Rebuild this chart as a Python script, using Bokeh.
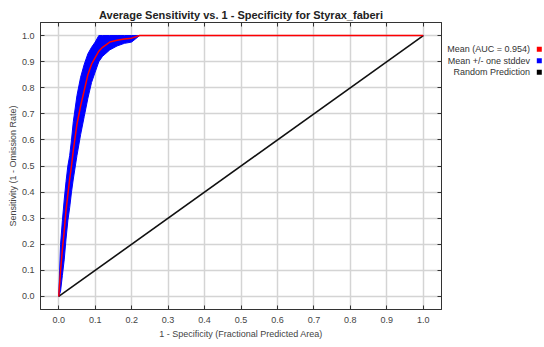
from bokeh.plotting import figure
from bokeh.layouts import row
from bokeh.models import Range1d, FixedTicker, PrintfTickFormatter, LinearAxis, ColumnDataSource
from bokeh.core.properties import value
from bokeh.embed import file_html
from bokeh.resources import INLINE

# ---- data ----
fpr = [0.0, 0.005, 0.01, 0.015, 0.02, 0.025, 0.03, 0.035, 0.04, 0.05, 0.06, 0.07,
       0.08, 0.09, 0.1, 0.11, 0.12, 0.14, 0.16, 0.18, 0.2, 0.222, 1.0]
mean_sens = [0.0, 0.10, 0.18, 0.25, 0.33, 0.39, 0.45, 0.50, 0.56, 0.66, 0.73, 0.79,
             0.85, 0.89, 0.915, 0.94, 0.955, 0.975, 0.982, 0.987, 0.99, 1.0, 1.0]
upper_sens = [0.0, 0.20, 0.29, 0.37, 0.44, 0.50, 0.54, 0.60, 0.67, 0.77, 0.84, 0.89,
              0.93, 0.955, 0.975, 1.0, 1.0, 1.0, 1.0, 1.0, 1.0, 1.0, 1.0]
lower_sens = [0.0, 0.02, 0.08, 0.14, 0.22, 0.29, 0.34, 0.40, 0.45, 0.54, 0.62, 0.69,
              0.76, 0.82, 0.86, 0.90, 0.92, 0.945, 0.96, 0.97, 0.975, 1.0, 1.0]
random_x = [0.0, 1.0]
random_y = [0.0, 1.0]
ticks = [0.0, 0.1, 0.2, 0.3, 0.4, 0.5, 0.6, 0.7, 0.8, 0.9, 1.0]
legend_labels = ["Mean (AUC = 0.954)", "Mean +/- one stddev", "Random Prediction"]
legend_colors = ["#ff0000", "#0000ff", "#000000"]
title_text = "Average Sensitivity vs. 1 - Specificity for Styrax_faberi"

FONT = "Liberation Sans"

p = figure(width=444, height=347, output_backend="svg", toolbar_location=None,
           x_range=Range1d(-0.05, 1.05), y_range=Range1d(-0.05, 1.05),
           min_border_left=40, min_border_right=3, min_border_top=22, min_border_bottom=38)
p.background_fill_color = "white"
p.border_fill_color = "white"
p.outline_line_color = "#333333"
p.outline_line_width = 1

p.title.text = title_text
p.title.align = "center"
p.title.text_font = FONT
p.title.text_font_size = "11px"
p.title.text_font_style = "bold"
p.title.text_color = "#222222"
p.title.standoff = 3

for ax in (p.xaxis[0], p.yaxis[0]):
    ax.ticker = FixedTicker(ticks=ticks)
    ax.formatter = PrintfTickFormatter(format="%.1f")
    ax.major_tick_in = 4
    ax.major_tick_out = 0
    ax.minor_tick_in = 0
    ax.minor_tick_out = 0
    ax.axis_line_color = "#333333"
    ax.major_tick_line_color = "#333333"
    ax.major_label_text_font = FONT
    ax.major_label_text_font_size = "9px"
    ax.major_label_text_color = "#444444"
    ax.axis_label_text_font = FONT
    ax.axis_label_text_font_size = "9px"
    ax.axis_label_text_font_style = "normal"
    ax.axis_label_text_color = "#444444"
p.xaxis[0].major_label_standoff = 7
p.yaxis[0].major_label_standoff = 6
p.xaxis[0].axis_label = "1 - Specificity (Fractional Predicted Area)"
p.yaxis[0].axis_label = "Sensitivity (1 - Omission Rate)"
p.xaxis[0].axis_label_standoff = 3
p.yaxis[0].axis_label_standoff = 1

for loc in ("above", "right"):
    a = LinearAxis(ticker=FixedTicker(ticks=ticks), major_tick_in=4, major_tick_out=0,
                   minor_tick_in=0, minor_tick_out=0, major_label_text_color=None,
                   major_label_text_font_size="1px",
                   axis_line_color="#333333", major_tick_line_color="#333333",
                   major_label_standoff=0)
    p.add_layout(a, loc)

p.xgrid.ticker = FixedTicker(ticks=ticks)
p.ygrid.ticker = FixedTicker(ticks=ticks)
p.grid.grid_line_color = "#d4d4d4"
p.grid.grid_line_width = 1.5

src = ColumnDataSource(dict(x=fpr, m=mean_sens, u=upper_sens, l=lower_sens))
p.varea(x="x", y1="l", y2="u", source=src, fill_color="#0000ff")
p.line(x="x", y="u", source=src, line_color="#0000ff", line_width=1)
p.line(x="x", y="l", source=src, line_color="#0000ff", line_width=1)
p.line(x=random_x, y=random_y, line_color="#111111", line_width=1.6)
p.line(x="x", y="m", source=src, line_color="#ff0000", line_width=1.5)

# ---- legend panel (text right-aligned, colour square on the right) ----
lg = figure(width=100, height=347, output_backend="svg", toolbar_location=None,
            x_range=Range1d(3, 103), y_range=Range1d(22.72, -2.332),
            min_border=0, min_border_left=0, min_border_right=0,
            min_border_top=0, min_border_bottom=0)
lg.axis.visible = False
lg.grid.visible = False
lg.outline_line_color = None
lg.background_fill_color = "white"
lg.border_fill_color = "white"
rows = list(range(len(legend_labels)))
lsrc = ColumnDataSource(dict(y=rows, label=legend_labels, color=legend_colors))
lg.text(x=88.5, y="y", text="label", source=lsrc, text_font=value(FONT),
        text_font_size=value("9px"), text_align="right", text_baseline="middle",
        text_color="#333333")
lg.scatter(x=97.8, y="y", source=lsrc, marker="square", size=5, fill_color="color",
           line_color=None)

layout = row(p, lg, spacing=0)
open("out.html", "w").write(file_html(layout, INLINE))
